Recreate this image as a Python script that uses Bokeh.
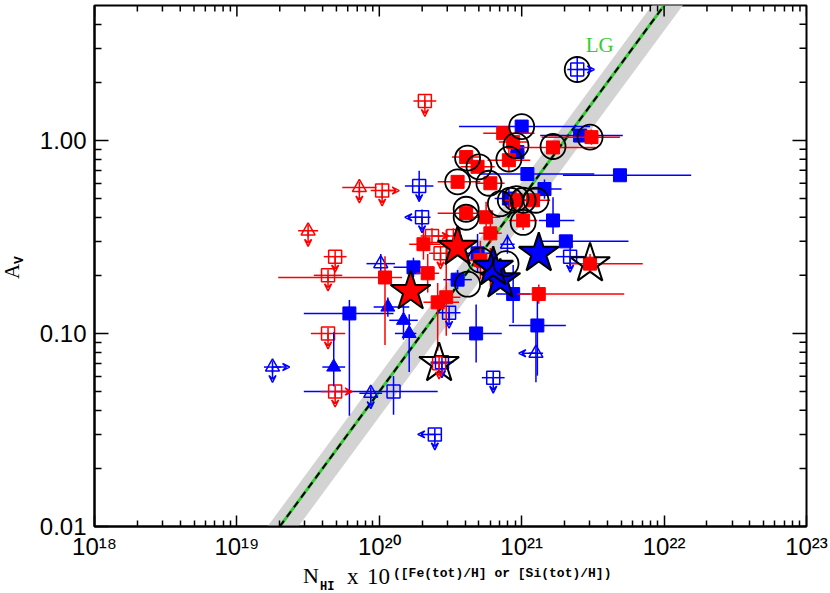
import numpy as np
from bokeh.plotting import figure
from bokeh.layouts import row, column
from bokeh.models import (ColumnDataSource, FixedTicker, PrintfTickFormatter,
                          CustomJSTickFormatter, Label, Arrow, VeeHead, Range1d, Div)
from bokeh.embed import file_html
from bokeh.resources import INLINE

# ---------------- data ----------------
X_RANGE = (1e18, 1e23)
Y_RANGE = (0.01, 5.0)

LG_RATIO = 5.0e-22            # A_V / N
LG_BAND = (3.7e-22, 6.1e-22)  # shaded range
LG_LABEL_POS = (10 ** 21.45, 2.72)

x_major = [1e18, 1e19, 1e20, 1e21, 1e22, 1e23]
y_major = [0.01, 0.1, 1.0]

# red filled squares: log N, A_V, x-err low / high (dex), y-err low / high (dex)
red_sq_logn = [20.87, 20.94, 21.22, 21.49, 20.61, 20.69, 20.91, 20.55, 20.78, 20.61, 20.75, 21.01,
               21.08, 20.96, 20.31, 20.04, 20.34, 20.41, 20.47, 20.71, 20.78, 21.12, 21.48, 20.78]
red_sq_av = [1.09, 0.98, 0.92, 1.04, 0.82, 0.73, 0.79, 0.61, 0.60, 0.42, 0.40, 0.385,
             0.49, 0.49, 0.29, 0.195, 0.205, 0.145, 0.154, 0.24, 0.22, 0.16, 0.23, 0.33]
red_sq_xlo = [.14, .10, .25, .35, .10, .12, .15, .14, .10, .20, .10, .10,
              .12, .08, .10, .75, .08, .10, .10, .10, .10, .15, .14, .08]
red_sq_xhi = [.22, .10, .30, .20, .10, .12, .15, .16, .10, .10, .10, .10,
              .12, .08, .12, .12, .08, .15, .10, .10, .10, .60, .37, .08]
red_sq_ylo = [.03, .04, .03, .04, .03, .03, .06, .03, .03, .03, .08, .05,
              .03, .05, .08, .35, .10, .25, .20, .10, .10, .05, .05, .05]
red_sq_yhi = [.03, .04, .03, .04, .03, .03, .08, .03, .03, .03, .08, .05,
              .03, .05, .08, .11, .10, .10, .35, .10, .10, .05, .05, .05]

# blue filled squares
blue_sq_logn = [21.00, 20.97, 21.41, 21.04, 21.69, 21.16, 20.91, 21.22, 21.31, 20.69, 20.24,
                20.55, 20.94, 19.79, 20.68, 21.11]
blue_sq_av = [1.18, 0.87, 1.06, 0.67, 0.66, 0.56, 0.50, 0.385, 0.30, 0.26, 0.22,
              0.19, 0.16, 0.127, 0.10, 0.11]
blue_sq_xlo = [.44, .05, .28, .33, .40, .10, .10, .10, .18, .10, .14, .10, .12, .32, .17, .20]
blue_sq_xhi = [.48, .05, .30, .47, .50, .12, .10, .15, .44, .10, .14, .10, .12, .31, .18, .20]
blue_sq_ylo = [.03, .03, .02, .02, .02, .05, .05, .07, .03, .10, .05, .05, .15, .53, .15, .26]
blue_sq_yhi = [.03, .03, .02, .02, .02, .05, .05, .12, .03, .10, .05, .05, .15, .07, .15, .13]

# blue filled triangles
blue_tri_logn = [20.06, 20.17, 20.21, 19.68]
blue_tri_av = [0.137, 0.117, 0.10, 0.067]
blue_tri_xlo = [.10, .10, .10, .08]
blue_tri_xhi = [.15, .10, .05, .08]
blue_tri_ylo = [.05, .10, .20, .10]
blue_tri_yhi = [.05, .10, .10, .18]

# filled stars
red_star_logn = [20.55, 20.22]
red_star_av = [0.28, 0.165]
blue_star_logn = [21.12, 20.85, 20.80]
blue_star_av = [0.26, 0.19, 0.22]
# open stars marking points
open_star_logn = [21.48, 20.42]
open_star_av = [0.23, 0.07]

# limits: log N, A_V, arrow directions (d=down, r=right, l=left), x-err lo/hi, y-err lo/hi
red_osq_logn = [20.32, 20.02, 19.69, 19.64, 19.64, 19.69, 20.37, 20.43, 20.42, 20.52]
red_osq_av = [1.60, 0.55, 0.25, 0.20, 0.10, 0.05, 0.32, 0.26, 0.07, 0.32]
red_osq_dir = ["d", "dr", "d", "d", "d", "dr", "r", "d", "d", "d"]
red_osq_xlo = [.08, .08, .08, .10, .12, .10, .08, .08, .06, .06]
red_osq_xhi = [.08, .08, .08, .10, .12, .10, .08, .08, .06, .06]
red_osq_ylo = [.03, .04, .03, .03, .03, .03, .04, .04, .04, .04]
red_osq_yhi = [.03, .04, .03, .03, .03, .03, .04, .04, .04, .04]

red_otri_logn = [19.86, 19.50]
red_otri_av = [0.57, 0.34]
red_otri_dir = ["d", "d"]
red_otri_xlo = [.12, .07]
red_otri_xhi = [.12, .07]
red_otri_ylo = [.03, .03]
red_otri_yhi = [.03, .03]

blue_osq_logn = [21.39, 20.28, 20.30, 20.10, 20.80, 20.39, 21.34, 20.49, 20.44]
blue_osq_av = [2.33, 0.58, 0.40, 0.050, 0.059, 0.030, 0.25, 0.128, 0.071]
blue_osq_dir = ["r", "d", "ld", "", "d", "ld", "d", "d", "d"]
blue_osq_xlo = [.07, .10, .06, .63, .08, .05, .10, .08, .08]
blue_osq_xhi = [.07, .10, .06, .31, .08, .05, .10, .08, .08]
blue_osq_ylo = [.07, .08, .04, .12, .03, .03, .05, .03, .03]
blue_osq_yhi = [.07, .08, .04, .08, .03, .03, .05, .03, .03]

blue_otri_logn = [20.01, 19.94, 21.10, 19.25, 20.90]
blue_otri_av = [0.23, 0.049, 0.079, 0.067, 0.29]
blue_otri_dir = ["", "d", "l", "rd", ""]
blue_otri_xlo = [.10, .08, .05, .06, .05]
blue_otri_xhi = [.10, .08, .05, .06, .05]
blue_otri_ylo = [.05, .03, .15, .03, .05]
blue_otri_yhi = [.05, .03, .15, .03, .05]

# black circles marking points
circ_logn = [21.39, 21.00, 20.96, 21.22, 21.48, 20.62, 20.70, 20.91, 20.55, 20.77, 20.61,
             20.61, 20.85, 20.92, 20.96, 21.01, 21.10, 21.01, 20.71, 20.89, 20.62]
circ_av = [2.33, 1.18, 0.94, 0.93, 1.04, 0.81, 0.73, 0.80, 0.61, 0.60, 0.44,
           0.40, 0.47, 0.49, 0.50, 0.49, 0.49, 0.376, 0.24, 0.23, 0.18]

# ---------------- style ----------------
RED = "#ff0000"
BLUE = "#0000ff"
GREEN = "#33cc33"
ARROW_DX = 0.12   # dex, arrow length horizontally
ARROW_DY = 0.08   # dex, arrow length vertically
FW, FH = 712, 521
YLAB_W = 30       # width of the y-title strip
XLAB_H = 32       # height of the x-title strip

p = figure(x_axis_type="log", y_axis_type="log",
           x_range=Range1d(*X_RANGE), y_range=Range1d(*Y_RANGE),
           frame_width=FW, frame_height=FH,
           min_border_left=94 - YLAB_W, min_border_right=24, min_border_top=5,
           min_border_bottom=67 - XLAB_H,
           output_backend="svg", toolbar_location=None, margin=0)
p.grid.visible = False
p.outline_line_color = "black"
p.outline_line_width = 2
p.background_fill_color = "white"
p.border_fill_color = "white"

# LG band and line
xl = np.array(X_RANGE)
p.patch(x=[xl[0], xl[1], xl[1], xl[0]],
        y=[LG_BAND[1] * xl[0], LG_BAND[1] * xl[1], LG_BAND[0] * xl[1], LG_BAND[0] * xl[0]],
        fill_color="#d3d3d3", line_color=None)
p.line(x=xl, y=LG_RATIO * xl, line_color=GREEN, line_width=3)
p.line(x=xl, y=LG_RATIO * xl, line_color="black", line_width=2, line_dash="7 5")


def bars(logn, av, xlo, xhi, ylo, yhi, color):
    n = np.array(logn); a = np.array(av)
    p.segment(x0=10 ** (n - np.array(xlo)), x1=10 ** (n + np.array(xhi)), y0=a, y1=a,
              line_color=color, line_width=1.5)
    p.segment(x0=10 ** n, x1=10 ** n, y0=a * 10 ** (-np.array(ylo)), y1=a * 10 ** np.array(yhi),
              line_color=color, line_width=1.5)


def arrows(logn, av, dirs, color):
    x0, y0, x1, y1 = [], [], [], []
    for n, a, d in zip(logn, av, dirs):
        for c in d:
            x0.append(10 ** n); y0.append(a)
            if c == "d":
                x1.append(10 ** n); y1.append(a * 10 ** (-ARROW_DY))
            elif c == "r":
                x1.append(10 ** (n + ARROW_DX)); y1.append(a)
            else:
                x1.append(10 ** (n - ARROW_DX)); y1.append(a)
    if x0:
        src = ColumnDataSource(dict(x0=x0, y0=y0, x1=x1, y1=y1))
        p.add_layout(Arrow(end=VeeHead(size=7, line_color=color, line_width=1.5, fill_color=None),
                           source=src, x_start="x0", y_start="y0", x_end="x1", y_end="y1",
                           line_color=color, line_width=1.5))


# blue groups first, red on top
bars(blue_osq_logn, blue_osq_av, blue_osq_xlo, blue_osq_xhi, blue_osq_ylo, blue_osq_yhi, BLUE)
bars(blue_otri_logn, blue_otri_av, blue_otri_xlo, blue_otri_xhi, blue_otri_ylo, blue_otri_yhi, BLUE)
bars(red_osq_logn, red_osq_av, red_osq_xlo, red_osq_xhi, red_osq_ylo, red_osq_yhi, RED)
bars(red_otri_logn, red_otri_av, red_otri_xlo, red_otri_xhi, red_otri_ylo, red_otri_yhi, RED)
arrows(blue_osq_logn, blue_osq_av, blue_osq_dir, BLUE)
arrows(blue_otri_logn, blue_otri_av, blue_otri_dir, BLUE)
arrows(red_osq_logn, red_osq_av, red_osq_dir, RED)
arrows(red_otri_logn, red_otri_av, red_otri_dir, RED)

p.scatter(x=10 ** np.array(blue_osq_logn), y=blue_osq_av, marker="square", size=13,
          fill_color=None, line_color=BLUE, line_width=1.5)
p.scatter(x=10 ** np.array(blue_otri_logn), y=blue_otri_av, marker="triangle", size=14,
          fill_color=None, line_color=BLUE, line_width=1.5)
p.scatter(x=10 ** np.array(red_osq_logn), y=red_osq_av, marker="square", size=13,
          fill_color=None, line_color=RED, line_width=1.5)
p.scatter(x=10 ** np.array(red_otri_logn), y=red_otri_av, marker="triangle", size=14,
          fill_color=None, line_color=RED, line_width=1.5)

bars(blue_sq_logn, blue_sq_av, blue_sq_xlo, blue_sq_xhi, blue_sq_ylo, blue_sq_yhi, BLUE)
bars(blue_tri_logn, blue_tri_av, blue_tri_xlo, blue_tri_xhi, blue_tri_ylo, blue_tri_yhi, BLUE)
p.scatter(x=10 ** np.array(blue_sq_logn), y=blue_sq_av, marker="square", size=13,
          fill_color=BLUE, line_color=BLUE)
p.scatter(x=10 ** np.array(blue_tri_logn), y=blue_tri_av, marker="triangle", size=14,
          fill_color=BLUE, line_color=BLUE)
bars(red_sq_logn, red_sq_av, red_sq_xlo, red_sq_xhi, red_sq_ylo, red_sq_yhi, RED)
p.scatter(x=10 ** np.array(red_sq_logn), y=red_sq_av, marker="square", size=13,
          fill_color=RED, line_color=RED)

# stars and circles
p.scatter(x=10 ** np.array(blue_star_logn), y=blue_star_av, marker="star", size=42,
          fill_color=BLUE, line_color="black", line_width=2)
p.scatter(x=10 ** np.array(red_star_logn), y=red_star_av, marker="star", size=42,
          fill_color=RED, line_color="black", line_width=2)
p.scatter(x=10 ** np.array(open_star_logn), y=open_star_av, marker="star", size=42,
          fill_color=None, line_color="black", line_width=2)
p.scatter(x=10 ** np.array(circ_logn), y=circ_av, marker="circle", size=25,
          fill_color=None, line_color="black", line_width=1.8)

p.add_layout(Label(x=LG_LABEL_POS[0], y=LG_LABEL_POS[1], text="LG", text_color=GREEN,
                   text_font="Liberation Serif", text_font_size="21px"))

# ---------------- axes ----------------
x_minor = [m * 10.0 ** e for e in range(18, 23) for m in range(2, 10)]
y_minor = [m * 10.0 ** e for e in range(-2, 1) for m in range(2, 10) if m * 10.0 ** e < Y_RANGE[1]]

sup_code = """
const sup = {"0":"\u2070","1":"\u00b9","2":"\u00b2","3":"\u00b3","4":"\u2074","5":"\u2075",
             "6":"\u2076","7":"\u2077","8":"\u2078","9":"\u2079"};
const e = Math.round(Math.log10(tick));
return "10" + String(e).split("").map(c => sup[c]).join("");
"""


def style_axis(ax, ticker, tick_in, minor_in):
    ax.ticker = ticker
    ax.axis_line_width = 2
    ax.axis_line_color = "black"
    ax.major_tick_in = tick_in
    ax.major_tick_out = 0
    ax.minor_tick_in = minor_in
    ax.minor_tick_out = 0
    ax.major_tick_line_width = 1.5
    ax.minor_tick_line_width = 1.5
    ax.major_tick_line_color = "black"
    ax.minor_tick_line_color = "black"
    ax.major_label_text_font = "Liberation Sans"
    ax.major_label_text_font_size = "24px"
    ax.major_label_text_color = "black"


xa = p.xaxis[0]
style_axis(xa, FixedTicker(ticks=x_major, minor_ticks=x_minor), 11, 6)
xa.formatter = CustomJSTickFormatter(code=sup_code)
xa.major_label_standoff = 6

ya = p.yaxis[0]
style_axis(ya, FixedTicker(ticks=y_major, minor_ticks=y_minor), 14, 7)
ya.formatter = PrintfTickFormatter(format="%.2f")
ya.major_label_standoff = 8

# mirrored ticks on top and right edges
dec_x = np.log10(X_RANGE[1] / X_RANGE[0])
dec_y = np.log10(Y_RANGE[1] / Y_RANGE[0])
tx = np.array(x_major + x_minor)
tx_len = np.array([11] * len(x_major) + [6] * len(x_minor)) * dec_y / FH
p.segment(x0=tx, x1=tx, y0=Y_RANGE[1], y1=Y_RANGE[1] * 10 ** (-tx_len),
          line_color="black", line_width=1.5)
ty = np.array(y_major + y_minor)
ty_len = np.array([14] * len(y_major) + [7] * len(y_minor)) * dec_x / FW
p.segment(x0=X_RANGE[1], x1=X_RANGE[1] * 10 ** (-ty_len), y0=ty, y1=ty,
          line_color="black", line_width=1.5)

# ---------------- axis titles (HTML so that sub/superscripts stay real text) ----------------
def span(text, left, top, font, size, bold=False, extra=""):
    return (f'<span style="position:absolute;left:{left}px;top:{top}px;white-space:nowrap;'
            f'font-family:\'{font}\';font-size:{size}px;line-height:1;color:black;'
            f'font-weight:{"bold" if bold else "normal"};{extra}">{text}</span>')


x_title = (f'<div style="position:relative;width:{FW + 24 + 94 - YLAB_W}px;height:{XLAB_H}px;">'
           + span("N", 273, 3, "Liberation Serif", 22)
           + span("HI", 290, 19, "Liberation Mono", 12, bold=True)
           + span("x", 317, 3, "Liberation Serif", 23)
           + span("10", 337, 3, "Liberation Serif", 23)
           + span("([Fe(tot)/H] or [Si(tot)/H])", 363, 5, "Liberation Mono", 13, bold=True)
           + '</div>')

rot = "transform-origin:0 0;transform:rotate(-90deg);"
y_title = (f'<div style="position:relative;width:{YLAB_W}px;height:593px;">'
           + span("A", 2, 279, "Liberation Serif", 21, extra=rot)
           + span("V", 13, 264, "Liberation Mono", 13, bold=True, extra=rot)
           + '</div>')

xdiv = Div(text=x_title, width=FW + 24 + 94 - YLAB_W, height=XLAB_H, margin=0)
ydiv = Div(text=y_title, width=YLAB_W, height=593, margin=0)

layout = row(ydiv, column(p, xdiv, spacing=0), spacing=0)

with open("out.html", "w", encoding="utf-8") as f:
    f.write(file_html(layout, INLINE))
